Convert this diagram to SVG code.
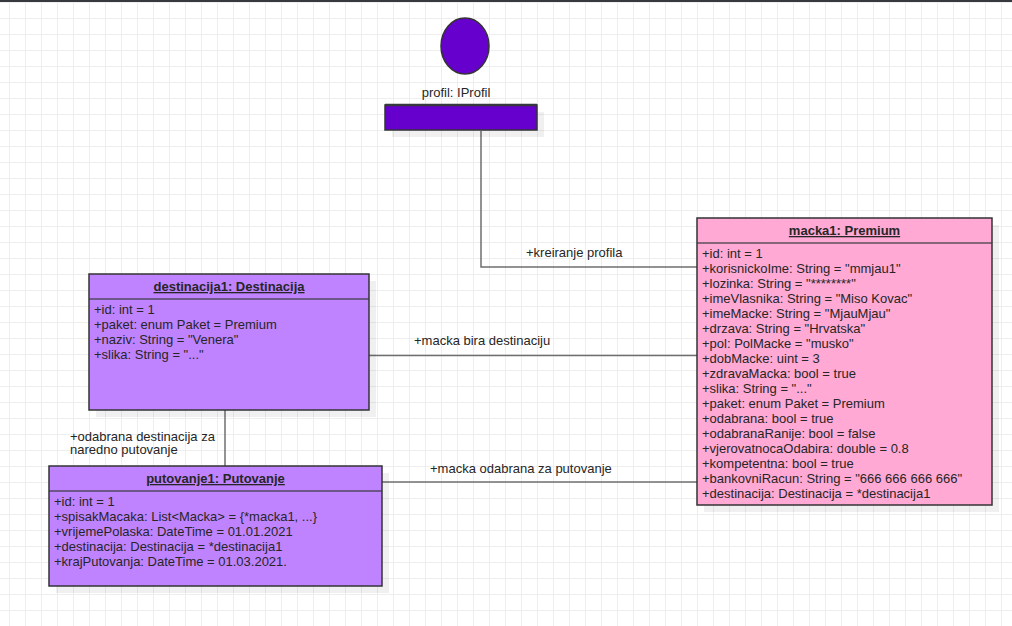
<svg xmlns="http://www.w3.org/2000/svg" width="1012" height="626" viewBox="0 0 1012 626">
<defs>
<pattern id="grid" x="9" y="2" width="16" height="16" patternUnits="userSpaceOnUse">
<path d="M0.5 0V16M0 0.5H16" fill="none" stroke="#eeeeee" stroke-width="1"/>
</pattern>
</defs>
<style>
text{font-family:"Liberation Sans",Arial,sans-serif;font-size:13px;fill:#262626}
.box{stroke:#333336;stroke-width:1.5}
.sep{stroke:#36393d;stroke-width:1.5;fill:none;opacity:.8}
.shadow{fill:#000;opacity:.06}
.title{font-weight:bold;text-decoration:underline;text-anchor:middle}
.purple{fill:#c083ff}
.pink{fill:#ffa9d4}
.violet{fill:#6600cc}
.line{fill:none;stroke:#6f6f6f;stroke-width:1.5}
</style>
<rect width="1012" height="626" fill="#ffffff"/>
<rect width="1012" height="626" fill="url(#grid)"/>
<rect width="1012" height="2" fill="#36393d"/>
<g id="connectors">
<path class="line" d="M481 131V267H697"/>
<path class="line" d="M369 355.500H697"/>
<path class="line" d="M225 410V466"/>
<path class="line" d="M382 482H697"/>
<text x="526" y="257">+kreiranje profila</text>
<text x="414" y="345">+macka bira destinaciju</text>
<text x="70" y="441">+odabrana destinacija za</text>
<text x="70" y="454">naredno putovanje</text>
<text x="430" y="473">+macka odabrana za putovanje</text>
</g>
<g id="profil">
<ellipse class="box violet" cx="465" cy="46" rx="24" ry="28"/>
<text x="456" y="97" text-anchor="middle">profil: IProfil</text>
<rect class="shadow" x="392" y="112" width="152" height="25"/>
<rect class="box violet" x="385" y="105" width="152" height="25"/>
<path d="M385 105H537" stroke="#36393d" stroke-width="2.500" fill="none"/>
</g>
<g id="macka1">
<rect class="shadow" x="704" y="225" width="295" height="287"/>
<rect class="box pink" x="697" y="218" width="295" height="287"/>
<path class="sep" d="M697 243H992"/>
<text class="title" x="844.500" y="235">macka1: Premium</text>
<text x="702" y="258">+id: int = 1</text>
<text x="702" y="273">+korisnickoIme: String = "mmjau1"</text>
<text x="702" y="288">+lozinka: String = "********"</text>
<text x="702" y="303">+imeVlasnika: String = "Miso Kovac"</text>
<text x="702" y="318">+imeMacke: String = "MjauMjau"</text>
<text x="702" y="333">+drzava: String = "Hrvatska"</text>
<text x="702" y="348">+pol: PolMacke = "musko"</text>
<text x="702" y="363">+dobMacke: uint = 3</text>
<text x="702" y="378">+zdravaMacka: bool = true</text>
<text x="702" y="393">+slika: String = "..."</text>
<text x="702" y="408">+paket: enum Paket = Premium</text>
<text x="702" y="423">+odabrana: bool = true</text>
<text x="702" y="438">+odabranaRanije: bool = false</text>
<text x="702" y="453">+vjerovatnocaOdabira: double = 0.8</text>
<text x="702" y="468">+kompetentna: bool = true</text>
<text x="702" y="483">+bankovniRacun: String = "666 666 666 666"</text>
<text x="702" y="498">+destinacija: Destinacija = *destinacija1</text>
</g>
<g id="destinacija1">
<rect class="shadow" x="96" y="281" width="280" height="136"/>
<rect class="box purple" x="89" y="274" width="280" height="136"/>
<path class="sep" d="M89 299H369"/>
<text class="title" x="229" y="291">destinacija1: Destinacija</text>
<text x="94" y="314">+id: int = 1</text>
<text x="94" y="329">+paket: enum Paket = Premium</text>
<text x="94" y="344">+naziv: String = "Venera"</text>
<text x="94" y="359">+slika: String = "..."</text>
</g>
<g id="putovanje1">
<rect class="shadow" x="56" y="473" width="333" height="120"/>
<rect class="box purple" x="49" y="466" width="333" height="120"/>
<path class="sep" d="M49 491H382"/>
<text class="title" x="215.500" y="483">putovanje1: Putovanje</text>
<text x="54" y="506">+id: int = 1</text>
<text x="54" y="521">+spisakMacaka: List&lt;Macka&gt; = {*macka1, ...}</text>
<text x="54" y="536">+vrijemePolaska: DateTime = 01.01.2021</text>
<text x="54" y="551">+destinacija: Destinacija = *destinacija1</text>
<text x="54" y="566">+krajPutovanja: DateTime = 01.03.2021.</text>
</g>
</svg>
